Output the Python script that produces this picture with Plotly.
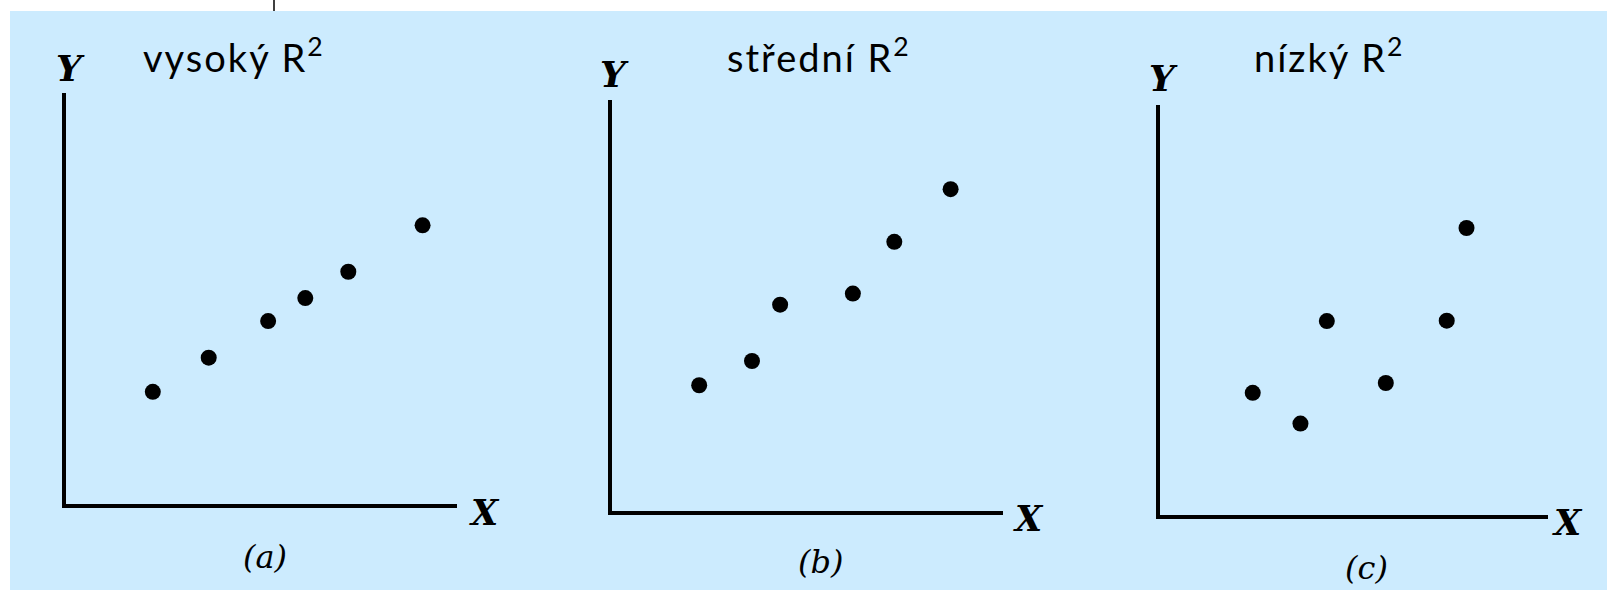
import plotly.graph_objects as go

W, H = 1607, 590

# Scatter data for the three panels (arbitrary units on a 0-10 scale)
titles = ["vysoký R", "střední R", "nízký R"]
captions = ["(a)", "(b)", "(c)"]

x_high = [2.22, 3.65, 5.17, 6.12, 7.22, 9.12]
y_high = [2.73, 3.56, 4.45, 5.01, 5.65, 6.78]

x_mid = [2.23, 3.58, 4.30, 6.16, 7.22, 8.66]
y_mid = [3.06, 3.65, 5.02, 5.29, 6.55, 7.83]

x_low = [2.39, 3.62, 4.30, 5.82, 7.39, 7.90]
y_low = [2.98, 2.23, 4.73, 3.22, 4.74, 7.00]

BLUE = "#CCEBFE"
INK = "#000000"
LW = 4


def px(x):
    return x / W


def py(y):
    return 1 - y / H


# plot boxes in pixels: left, right, top, bottom
boxes = [(66, 457, 93, 504), (612, 1003, 100, 511), (1160, 1548, 105, 515)]
series = [(x_high, y_high), (x_mid, y_mid), (x_low, y_low)]

fig = go.Figure()
layout_axes = {}
for i, ((l, r, t, b), (xs, ys)) in enumerate(zip(boxes, series)):
    n = "" if i == 0 else str(i + 1)
    fig.add_trace(go.Scatter(
        x=xs, y=ys, mode="markers",
        marker=dict(size=16, color=INK, line=dict(width=0)),
        xaxis="x" + n, yaxis="y" + n, showlegend=False, hoverinfo="skip",
    ))
    common = dict(range=[0, 10], showgrid=False, zeroline=False, showticklabels=False,
                  ticks="", showline=True, linecolor=INK, linewidth=LW, fixedrange=True)
    layout_axes["xaxis" + n] = dict(common, domain=[px(l), px(r)], anchor="y" + n)
    layout_axes["yaxis" + n] = dict(common, domain=[py(b), py(t)], anchor="x" + n)

# axis letters, titles and panel captions
title_pos = [(233, 55), (818, 55), (1328, 55)]
ylab_pos = [(70, 68), (614, 74), (1163, 78)]
xlab_pos = [(484, 512), (1028, 518), (1567, 522)]
cap_pos = [(265, 557), (820, 562), (1366, 568)]

annotations = []
for i in range(3):
    annotations.append(dict(
        x=px(title_pos[i][0]), y=py(title_pos[i][1]),
        text='<span style="letter-spacing:2px">' + titles[i] + '</span><sup>2</sup>',
        font=dict(family="Lato", size=38, color=INK)))
    annotations.append(dict(x=px(ylab_pos[i][0]), y=py(ylab_pos[i][1]), text="<b><i>Y</i></b>",
                            font=dict(family="DejaVu Serif", size=36, color=INK)))
    annotations.append(dict(x=px(xlab_pos[i][0]), y=py(xlab_pos[i][1]), text="<b><i>X</i></b>",
                            font=dict(family="DejaVu Serif", size=35, color=INK)))
    annotations.append(dict(x=px(cap_pos[i][0]), y=py(cap_pos[i][1]), text="<i>" + captions[i] + "</i>",
                            font=dict(family="DejaVu Serif", size=32, color=INK)))
for a in annotations:
    a.update(xref="paper", yref="paper", showarrow=False, xanchor="center", yanchor="middle")

shapes = [
    dict(type="rect", xref="paper", yref="paper", x0=px(10), x1=1, y0=0, y1=py(11),
         fillcolor=BLUE, line=dict(width=0), layer="below"),
    dict(type="line", xref="paper", yref="paper", x0=px(274), x1=px(274), y0=py(0), y1=py(11),
         line=dict(color=INK, width=1.5)),
]

fig.update_layout(
    width=W, height=H, margin=dict(l=0, r=0, t=0, b=0),
    paper_bgcolor="white", plot_bgcolor="rgba(0,0,0,0)",
    annotations=annotations, shapes=shapes, **layout_axes,
)

fig.write_html("out.html", config={"displayModeBar": False})
